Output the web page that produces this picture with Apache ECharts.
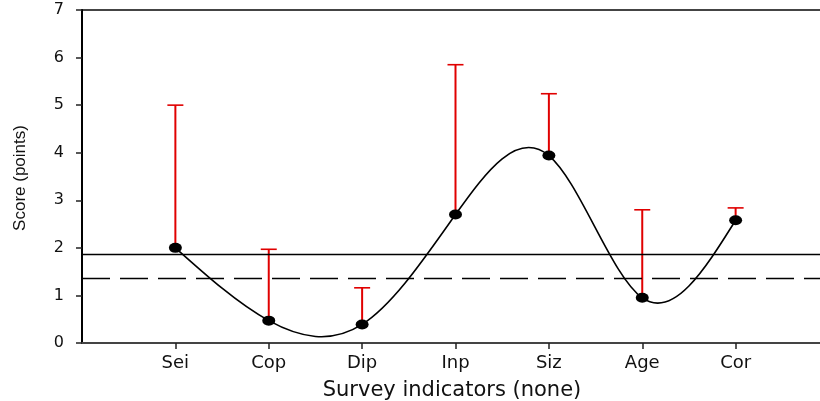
<!DOCTYPE html>
<html>
<head>
<meta charset="utf-8">
<script src="https://cdn.jsdelivr.net/npm/echarts@6/dist/echarts.min.js"></script>
<style>html,body{margin:0;padding:0;background:#fff;}#c{width:820px;height:401px;}</style>
</head>
<body>
<div id="c"></div>
<script>
// ---- data ----
var categories = ['Sei', 'Cop', 'Dip', 'Inp', 'Siz', 'Age', 'Cor'];
var means = [2.0, 0.47, 0.39, 2.70, 3.94, 0.95, 2.58];
var upperErr = [5.0, 1.97, 1.16, 5.85, 5.24, 2.80, 2.84];
var solidRef = 1.87;
var dashedRef = 1.37;
var yTicks = [0, 1, 2, 3, 4, 5, 6, 7];
var xTitle = 'Survey indicators (none)';
var yTitle = 'Score (points)';

// axis slots: empty slot at each end
var axisCats = [''].concat(categories).concat(['']);

// natural cubic spline second derivatives (h = 1) for drawing the smooth curve
function splineM(y) {
  var n = y.length, M = new Array(n).fill(0);
  if (n < 3) return M;
  var c = [], d = [];
  for (var i = 1; i < n - 1; i++) {
    var rhs = 6 * (y[i + 1] - 2 * y[i] + y[i - 1]);
    var denom = 4 - (i === 1 ? 0 : c[i - 1]);
    c[i] = 1 / denom;
    d[i] = (rhs - (i === 1 ? 0 : d[i - 1])) / denom;
  }
  for (var j = n - 2; j >= 1; j--) {
    M[j] = d[j] - c[j] * (j === n - 2 ? 0 : M[j + 1]);
  }
  return M;
}
var M = splineM(means);
function slopeAt(i) {
  var n = means.length;
  if (i < n - 1) return (means[i + 1] - means[i]) - (2 * M[i] + M[i + 1]) / 6;
  return (means[i] - means[i - 1]) + (M[i - 1] + 2 * M[i]) / 6;
}

var segData = [];
for (var s = 0; s < means.length - 1; s++) segData.push([s + 1, means[s], s]);
var pointData = means.map(function (v, i) { return [i + 1, v]; });
var errData = means.map(function (v, i) { return [i + 1, v, upperErr[i]]; });

var chart = echarts.init(document.getElementById('c'), null, { renderer: 'canvas' });
chart.setOption({
  animation: false,
  backgroundColor: '#fff',
  grid: { left: 82, right: -9, top: 10, bottom: 58, containLabel: false, outerBoundsMode: 'none', show: true, borderColor: '#444', borderWidth: 2, backgroundColor: 'transparent' },
  xAxis: {
    type: 'category',
    data: axisCats,
    boundaryGap: false,
    axisLine: { show: true, lineStyle: { color: '#444', width: 2 } },
    axisTick: { show: true, length: 6, lineStyle: { color: '#222', width: 1.5 }, interval: function (idx) { return idx > 0 && idx < axisCats.length - 1; } },
    axisLabel: { show: true, interval: 0, margin: 11, color: '#111', fontFamily: 'DejaVu Sans', fontSize: 18 },
    splitLine: { show: false }
  },
  yAxis: {
    type: 'value',
    min: yTicks[0], max: yTicks[yTicks.length - 1], interval: 1,
    axisLine: { show: true, lineStyle: { color: '#000', width: 2 } },
    axisTick: { show: true, length: 6, lineStyle: { color: '#222', width: 1.5 } },
    axisLabel: { margin: 18, color: '#111', fontFamily: 'DejaVu Sans', fontSize: 16 },
    splitLine: { show: false }
  },
  graphic: [
    { type: 'text', x: 452, y: 391, style: { text: xTitle, fill: '#111', font: '21px "DejaVu Sans"', textAlign: 'center', textVerticalAlign: 'middle' } },
    { type: 'text', x: 20, y: 178, rotation: Math.PI / 2, style: { text: yTitle, fill: '#111', font: '17px "Liberation Sans", Arial, sans-serif', textAlign: 'center', textVerticalAlign: 'middle' } }
  ],
  series: [
    {
      type: 'custom',
      name: 'curve',
      silent: true,
      data: segData,
      renderItem: function (params, api) {
        var i = api.value(2);
        var x0 = i + 1, x1 = i + 2;
        var p0 = api.coord([x0, means[i]]);
        var p3 = api.coord([x1, means[i + 1]]);
        var dx = (p3[0] - p0[0]) / 3;
        var y1 = api.coord([x0, means[i] + slopeAt(i) / 3])[1];
        var y2 = api.coord([x1, means[i + 1] - slopeAt(i + 1) / 3])[1];
        return {
          type: 'bezierCurve',
          shape: { x1: p0[0], y1: p0[1], cpx1: p0[0] + dx, cpy1: y1, cpx2: p3[0] - dx, cpy2: y2, x2: p3[0], y2: p3[1] },
          style: { stroke: '#000', lineWidth: 1.6, fill: null }
        };
      },
      markLine: {
        silent: true,
        symbol: ['none', 'none'],
        label: { show: false },
        data: [
          { yAxis: solidRef, lineStyle: { color: '#000', width: 1.3, type: 'solid' } },
          { yAxis: dashedRef, lineStyle: { color: '#000', width: 1.3, type: [28, 10] } }
        ]
      },
      z: 2
    },
    {
      type: 'custom',
      name: 'errors',
      silent: true,
      data: errData,
      renderItem: function (params, api) {
        var base = api.coord([api.value(0), api.value(1)]);
        var top = api.coord([api.value(0), api.value(2)]);
        var half = 8;
        return {
          type: 'group',
          children: [
            { type: 'line', shape: { x1: base[0], y1: base[1], x2: top[0], y2: top[1] }, style: { stroke: '#e00000', lineWidth: 2 } },
            { type: 'line', shape: { x1: top[0] - half, y1: top[1], x2: top[0] + half, y2: top[1] }, style: { stroke: '#e00000', lineWidth: 1.6 } }
          ]
        };
      },
      z: 3
    },
    {
      type: 'scatter',
      name: 'means',
      data: pointData,
      symbol: 'circle',
      symbolSize: [13, 10],
      itemStyle: { color: '#000', opacity: 1 },
      silent: true,
      z: 4
    }
  ]
});
</script>
</body>
</html>
